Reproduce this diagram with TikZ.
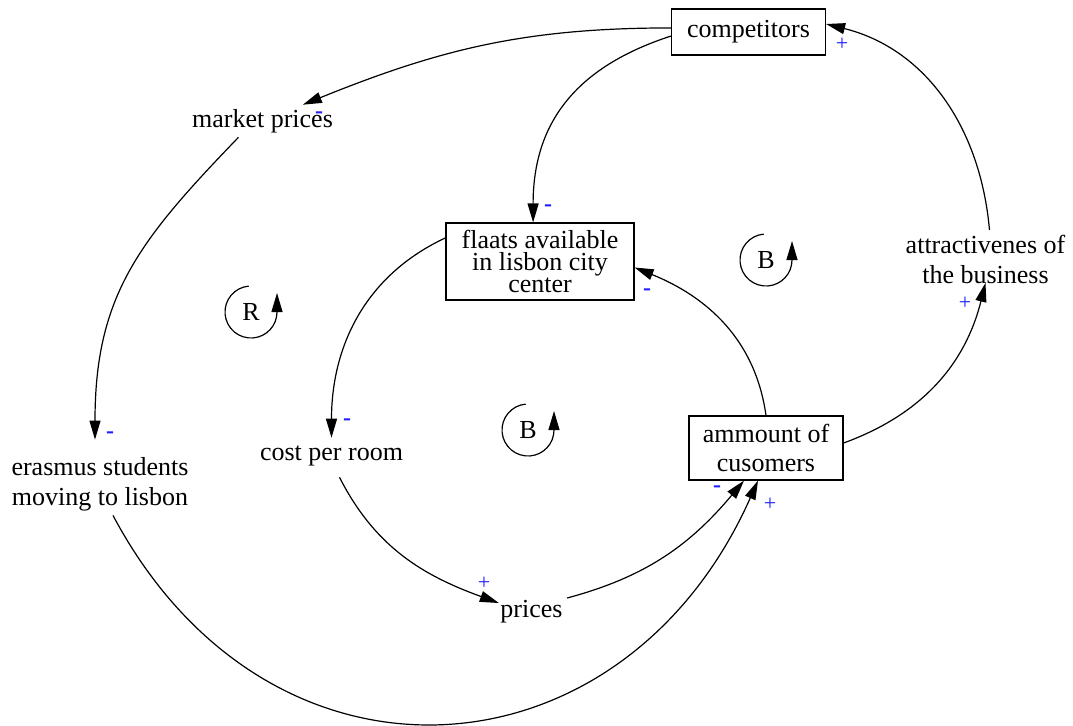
\documentclass[tikz,border=0pt]{standalone}
\usepackage{fontspec}
\setmainfont{Liberation Serif}
\usetikzlibrary{arrows.meta}
\definecolor{polblue}{RGB}{30,30,255}
\tikzset{
every picture/.style={
line width=0.6pt
}}
\tikzset{
  var/.style={inner sep=2pt, font=\fontsize{13}{15}\selectfont, align=center},
  word/.style={var, text height=8.9pt, text depth=2.8pt},
  stock/.style={var, draw},
  link/.style={-{Triangle[length=9.5pt,width=5.5pt]}},
  pol/.style={inner sep=0pt, font=\fontsize{11}{13}\selectfont, text=polblue},
  neg/.style={pol, font=\fontsize{12}{13}\selectfont\bfseries},
  loop/.pic={
    \node[var] (-txt) at (0,0) {#1};
    \draw[link] (95:13pt) arc[start angle=95,end angle=360,radius=13pt] -- ++(0,9.5pt);
  }
}
\begin{document}
\begin{tikzpicture}[x=0.5pt,y=0.5pt]
  \useasboundingbox (0,0) rectangle (1073,-725);

  % stocks
  \node[stock, minimum width=77pt, minimum height=23pt] (comp) at (748.5,-32) {competitors};
  \node[stock, minimum width=94pt, minimum height=38.5pt, font=\fontsize{13}{11}\selectfont] (flaats) at (540,-261.5) {flaats available\\in lisbon city\\center};
  \node[stock, minimum width=77pt, minimum height=32pt, font=\fontsize{13}{14.5}\selectfont] (amm) at (766,-448) {ammount of\\cusomers};

  % variables
  \node[word] (mp) at (262.5,-121) {market prices};
  \node[word] (cost) at (331.5,-454) {cost per room};
  \node[word] (prices) at (531.5,-611) {prices};
  \node[var] (erasmus) at (100,-484) {erasmus students\\moving to lisbon};
  \node[var] (attr) at (985.5,-259) {attractivenes of\\the business};

  % loops
  \pic (loopr) at (251,-312) {loop=R};
  \pic (loopb) at (766,-260) {loop=B};
  \pic (loopc) at (528,-430) {loop=B};

  % links
  \draw[link] (comp.177) to[out=180,in=22] (mp);
  \draw[link] (comp.183) to[out=198,in=90,looseness=1.1] (flaats.100);
  \draw[link] ([xshift=-12pt]mp.south) to[out=226,in=90,looseness=1.1] ([shift={(-2.5pt,6.5pt)}]erasmus.north);
  \draw[link] ([xshift=6.5pt]erasmus.south) to[out=-62,in=246,looseness=1.32] ([xshift=-4pt]amm.south);
  \draw[link] (flaats.166) to[out=205,in=90] (cost.north);
  \draw[link] ([xshift=4pt,yshift=-3.5pt]cost.south) to[out=-63,in=160] ([shift={(1.5pt,4pt)}]prices.west);
  \draw[link] ([yshift=6.5pt]prices.east) to[out=15,in=230] ([xshift=-11pt]amm.south);
  \draw[link] (amm.north) to[out=98,in=-22] ([yshift=-3pt]flaats.east);
  \draw[link] ([yshift=2.5pt]amm.east) to[out=20,in=256] ([yshift=2.5pt]attr.south);
  \draw[link] ([xshift=2pt]attr.north) to[out=95,in=-14] ([yshift=4pt]comp.east);

  % polarities
  \node[neg] (p1) at (319,-115) {-};
  \node[neg] (p2) at (548,-208) {-};
  \node[neg] (p3) at (110,-435) {-};
  \node[pol] (p4) at (770,-504) {+};
  \node[neg] (p5) at (347,-422) {-};
  \node[pol] (p6) at (484,-583) {+};
  \node[neg] (p7) at (717,-489) {-};
  \node[neg] (p8) at (647,-292) {-};
  \node[pol] (p9) at (965,-303) {+};
  \node[pol] (p10) at (842,-44) {+};
\end{tikzpicture}
\end{document}
